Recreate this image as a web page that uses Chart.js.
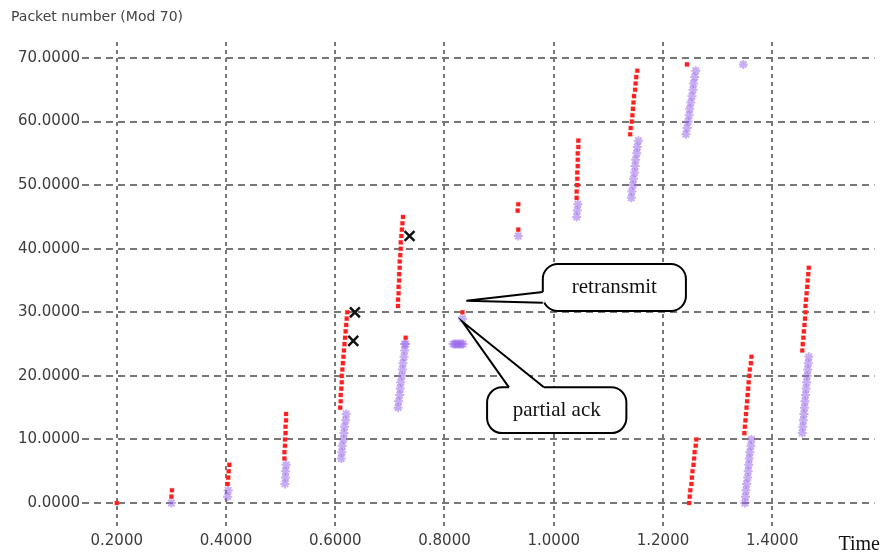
<!DOCTYPE html>
<html>
<head>
<meta charset="utf-8">
<title>Packet number (Mod 70) vs Time</title>
<script src="https://cdn.jsdelivr.net/npm/chart.js@4.4.1/dist/chart.umd.min.js"></script>
<style>
  html, body { margin: 0; padding: 0; background: #fff; }
  canvas { display: block; }
</style>
</head>
<body>
<canvas id="chart" width="884" height="556"></canvas>
<script>
/* ticks */
const xTicks = [0.2, 0.4, 0.6, 0.8, 1.0, 1.2, 1.4];
const yTicks = [0, 10, 20, 30, 40, 50, 60, 70];

/* sent packets (red) */
const sentTime = [
  0.200,
  0.300, 0.301,
  0.403, 0.404, 0.405, 0.406,
  0.507, 0.507, 0.508, 0.508, 0.509, 0.509, 0.510, 0.510,
  0.609, 0.610, 0.610, 0.611, 0.612, 0.612, 0.613, 0.614, 0.615, 0.616, 0.617, 0.618, 0.619, 0.620, 0.621, 0.622,
  0.715, 0.715, 0.716, 0.716, 0.717, 0.717, 0.718, 0.718, 0.719, 0.720, 0.720, 0.721, 0.722, 0.723, 0.724,
  0.729,
  0.833,
  0.935, 0.934, 0.935,
  1.042, 1.042, 1.043, 1.043, 1.043, 1.044, 1.044, 1.044, 1.045, 1.045,
  1.140, 1.141, 1.143, 1.144, 1.145, 1.146, 1.147, 1.149, 1.150, 1.151, 1.153,
  1.244,
  1.248, 1.249, 1.250, 1.252, 1.253, 1.254, 1.256, 1.257, 1.258, 1.260, 1.261,
  1.349, 1.350, 1.351, 1.352, 1.353, 1.354, 1.355, 1.356, 1.357, 1.358, 1.359, 1.361, 1.362,
  1.455, 1.456, 1.457, 1.458, 1.459, 1.460, 1.461, 1.461, 1.462, 1.463, 1.464, 1.465, 1.466, 1.467,
];
const sentSeq = [
  0,
  1, 2,
  3, 4, 5, 6,
  7, 8, 9, 10, 11, 12, 13, 14,
  15, 16, 17, 18, 19, 20, 21, 22, 23, 24, 25, 26, 27, 28, 29, 30,
  31, 32, 33, 34, 35, 36, 37, 38, 39, 40, 41, 42, 43, 44, 45,
  26,
  30,
  43, 46, 47,
  48, 49, 50, 51, 52, 53, 54, 55, 56, 57,
  58, 59, 60, 61, 62, 63, 64, 65, 66, 67, 68,
  69,
  0, 1, 2, 3, 4, 5, 6, 7, 8, 9, 10,
  11, 12, 13, 14, 15, 16, 17, 18, 19, 20, 21, 22, 23,
  24, 25, 26, 27, 28, 29, 30, 31, 32, 33, 34, 35, 36, 37,
];

/* acks (purple) */
const ackTime = [
  0.300,
  0.403, 0.404,
  0.508, 0.509, 0.509, 0.510,
  0.611, 0.612, 0.613, 0.615, 0.616, 0.617, 0.619, 0.620,
  0.715, 0.716, 0.718, 0.719, 0.720, 0.722, 0.723, 0.724, 0.726, 0.727, 0.729, 0.727,
  0.833,
  0.816, 0.819, 0.822, 0.825, 0.828, 0.831, 0.834,
  0.935,
  1.042, 1.043, 1.044,
  1.142, 1.143, 1.145, 1.146, 1.148, 1.149, 1.150, 1.152, 1.153, 1.155,
  1.242, 1.244, 1.246, 1.248, 1.249, 1.251, 1.253, 1.255, 1.256, 1.258, 1.260,
  1.347,
  1.350, 1.351, 1.352, 1.353, 1.355, 1.356, 1.357, 1.358, 1.359, 1.361, 1.362,
  1.455, 1.456, 1.457, 1.458, 1.459, 1.460, 1.461, 1.462, 1.463, 1.464, 1.465, 1.466, 1.467,
];
const ackSeq = [
  0,
  1, 2,
  3, 4, 5, 6,
  7, 8, 9, 10, 11, 12, 13, 14,
  15, 16, 17, 18, 19, 20, 21, 22, 23, 24, 25, 25,
  29,
  25, 25, 25, 25, 25, 25, 25,
  42,
  45, 46, 47,
  48, 49, 50, 51, 52, 53, 54, 55, 56, 57,
  58, 59, 60, 61, 62, 63, 64, 65, 66, 67, 68,
  69,
  0, 1, 2, 3, 4, 5, 6, 7, 8, 9, 10,
  11, 12, 13, 14, 15, 16, 17, 18, 19, 20, 21, 22, 23,
];

/* drops (black x) */
const lossTime = [0.636, 0.633, 0.736];
const lossSeq = [30, 25.5, 42];

function toPoints(xs, ys) {
  return xs.map((x, i) => ({ x: x, y: ys[i] }));
}

/* callout boxes, in data units: [left, right, top, bottom] */
const callouts = [
  { text: "retransmit", box: [0.98, 1.242, 37.6, 30.2], base: [[0.98, 33.2], [0.98, 31.5]], tip: [0.84, 31.8] },
  { text: "partial ack", box: [0.878, 1.133, 18.2, 11.0], base: [[0.918, 18.2], [0.982, 18.2]], tip: [0.833, 28.5] },
];

function roundRectPath(ctx, x, y, w, h, r) {
  ctx.beginPath();
  ctx.moveTo(x + r, y);
  ctx.arcTo(x + w, y, x + w, y + h, r);
  ctx.arcTo(x + w, y + h, x, y + h, r);
  ctx.arcTo(x, y + h, x, y, r);
  ctx.arcTo(x, y, x + w, y, r);
  ctx.closePath();
}

const decorations = {
  id: "decorations",
  afterDraw(chart) {
    const ctx = chart.ctx;
    const xs = chart.scales.x;
    const ys = chart.scales.y;
    const px = (v) => xs.getPixelForValue(v);
    const py = (v) => ys.getPixelForValue(v);
    ctx.save();

    callouts.forEach((c) => {
      const l = px(c.box[0]), r = px(c.box[1]), t = py(c.box[2]), b = py(c.box[3]);
      const b1 = [px(c.base[0][0]), py(c.base[0][1])];
      const b2 = [px(c.base[1][0]), py(c.base[1][1])];
      const tp = [px(c.tip[0]), py(c.tip[1])];
      ctx.lineWidth = 2;
      ctx.strokeStyle = "#000";
      ctx.fillStyle = "#fff";
      roundRectPath(ctx, l, t, r - l, b - t, 15);
      ctx.fill();
      ctx.stroke();
      // tail
      ctx.beginPath();
      ctx.moveTo(b1[0], b1[1]);
      ctx.lineTo(tp[0], tp[1]);
      ctx.lineTo(b2[0], b2[1]);
      ctx.closePath();
      ctx.fill();
      ctx.beginPath();
      ctx.moveTo(b1[0], b1[1]);
      ctx.lineTo(b2[0], b2[1]);
      ctx.strokeStyle = "#fff";
      ctx.lineWidth = 4;
      ctx.stroke();
      ctx.beginPath();
      ctx.moveTo(b1[0], b1[1]);
      ctx.lineTo(tp[0], tp[1]);
      ctx.lineTo(b2[0], b2[1]);
      ctx.strokeStyle = "#000";
      ctx.lineWidth = 2;
      ctx.stroke();
      ctx.fillStyle = "#111";
      ctx.font = "21px 'Liberation Serif'";
      ctx.textAlign = "center";
      ctx.textBaseline = "middle";
      ctx.fillText(c.text, (l + r) / 2, (t + b) / 2);
    });

    ctx.fillStyle = "#444";
    ctx.font = "14px 'DejaVu Sans'";
    ctx.textAlign = "left";
    ctx.textBaseline = "middle";
    ctx.fillText("Packet number (Mod 70)", 11, 17);

    ctx.fillStyle = "#111";
    ctx.font = "20px 'Liberation Serif'";
    ctx.textAlign = "right";
    ctx.textBaseline = "alphabetic";
    ctx.fillText("Time", chart.width - 4, 550);
    ctx.restore();
  },
};

const tickFont = { family: "'DejaVu Sans'", size: 15 };

new Chart(document.getElementById("chart"), {
  type: "scatter",
  data: {
    datasets: [
      {
        label: "drop",
        data: toPoints(lossTime, lossSeq),
        pointStyle: "crossRot",
        radius: 7,
        borderColor: "#111",
        borderWidth: 2.5,
      },
      {
        label: "sent",
        data: toPoints(sentTime, sentSeq),
        pointStyle: "rect",
        radius: 2.9,
        backgroundColor: "#ff1e1e",
        borderColor: "rgba(255,60,60,0.5)",
        borderWidth: 0.5,
      },
      {
        label: "ack",
        data: toPoints(ackTime, ackSeq),
        pointStyle: "star",
        radius: 4.5,
        backgroundColor: "rgba(155,105,235,0.55)",
        borderColor: "rgba(155,105,235,0.55)",
        borderWidth: 2,
      },
    ],
  },
  options: {
    responsive: false,
    animation: false,
    devicePixelRatio: 1,
    layout: { padding: { top: 42, right: 4, left: 0, bottom: 0 } },
    plugins: { legend: { display: false }, tooltip: { enabled: false } },
    scales: {
      x: {
        type: "linear",
        min: 0.13636,
        max: 1.58727,
        afterBuildTicks: (s) => { s.ticks = xTicks.map((v) => ({ value: v })); },
        afterFit: (s) => { s.height = 29; },
        ticks: { callback: (v) => Number(v).toFixed(4), padding: 5, autoSkip: false, maxRotation: 0, color: "#3c3c3c", font: tickFont },
        grid: { color: "#777", lineWidth: 2, drawTicks: false },
        border: { display: false, dash: [4, 4] },
      },
      y: {
        type: "linear",
        min: -3.775,
        max: 72.52,
        afterBuildTicks: (s) => { s.ticks = yTicks.map((v) => ({ value: v })); },
        afterFit: (s) => { s.width = 82; },
        ticks: { callback: (v) => Number(v).toFixed(4), padding: 2, autoSkip: false, color: "#3c3c3c", font: tickFont },
        grid: { color: "#777", lineWidth: 2, drawTicks: false },
        border: { display: false, dash: [7, 5] },
      },
    },
  },
  plugins: [decorations],
});
</script>
</body>
</html>
